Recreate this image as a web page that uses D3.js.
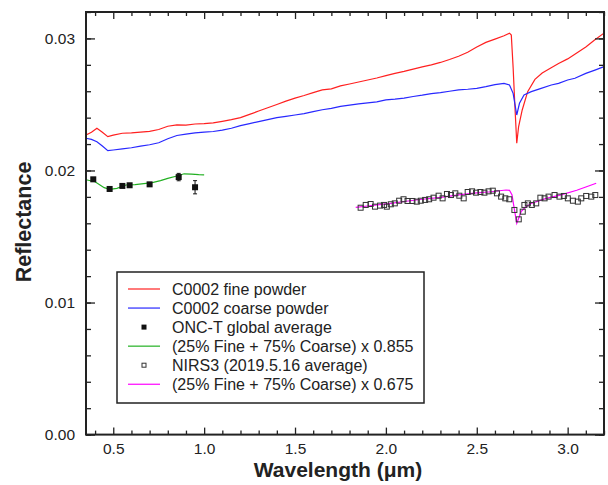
<!DOCTYPE html>
<html>
<head>
<meta charset="utf-8">
<script src="https://cdn.jsdelivr.net/npm/d3@7"></script>
<style>
  body { margin: 0; background: #fff; }
  text { font-family: "Liberation Sans", Arial, sans-serif; fill: #222; }
</style>
</head>
<body>
<script>
// C0002 fine powder
const fineWl = [0.35, 0.38, 0.41, 0.44, 0.47, 0.50, 0.55, 0.60, 0.65, 0.70, 0.75, 0.80, 0.85, 0.90, 0.95, 1.00,
  1.05, 1.10, 1.15, 1.20, 1.25, 1.30, 1.35, 1.40, 1.45, 1.50, 1.55, 1.60, 1.65, 1.70, 1.75, 1.80, 1.85, 1.90,
  1.95, 2.00, 2.05, 2.10, 2.15, 2.20, 2.25, 2.30, 2.35, 2.40, 2.45, 2.50, 2.55, 2.60, 2.65, 2.68, 2.69, 2.70,
  2.71, 2.72, 2.73, 2.75, 2.78, 2.82, 2.86, 2.90, 2.95, 3.00, 3.05, 3.10, 3.15, 3.20];
const fineR = [0.02269, 0.02290, 0.02320, 0.02290, 0.02256, 0.02268, 0.02282, 0.02285, 0.02290, 0.02296, 0.02310,
  0.02335, 0.02345, 0.02343, 0.02352, 0.02355, 0.02360, 0.02372, 0.02385, 0.02400, 0.02425, 0.02450, 0.02475,
  0.02500, 0.02525, 0.02548, 0.02568, 0.02590, 0.02610, 0.02618, 0.02640, 0.02655, 0.02670, 0.02685, 0.02700,
  0.02718, 0.02735, 0.02750, 0.02768, 0.02785, 0.02800, 0.02818, 0.02840, 0.02865, 0.02895, 0.02935, 0.02970,
  0.02995, 0.03020, 0.03040, 0.03025, 0.02780, 0.02480, 0.02206, 0.02330, 0.02458, 0.02597, 0.02690, 0.02738,
  0.02770, 0.02810, 0.02845, 0.02890, 0.02935, 0.02990, 0.03040];

// C0002 coarse powder
const coarseWl = [0.35, 0.38, 0.41, 0.44, 0.47, 0.50, 0.55, 0.60, 0.65, 0.70, 0.75, 0.80, 0.85, 0.90, 0.95, 1.00,
  1.05, 1.10, 1.15, 1.20, 1.25, 1.30, 1.35, 1.40, 1.45, 1.50, 1.55, 1.60, 1.65, 1.70, 1.75, 1.80, 1.85, 1.90,
  1.95, 2.00, 2.05, 2.10, 2.15, 2.20, 2.25, 2.30, 2.35, 2.40, 2.45, 2.50, 2.55, 2.60, 2.65, 2.68, 2.70, 2.72,
  2.735, 2.76, 2.80, 2.85, 2.91, 2.95, 3.00, 3.04, 3.10, 3.15, 3.20];
const coarseR = [0.02244, 0.02235, 0.02218, 0.02185, 0.02150, 0.02155, 0.02163, 0.02172, 0.02185, 0.02195, 0.02210,
  0.02240, 0.02265, 0.02275, 0.02285, 0.02290, 0.02295, 0.02305, 0.02320, 0.02340, 0.02355, 0.02370, 0.02385,
  0.02400, 0.02410, 0.02420, 0.02430, 0.02445, 0.02460, 0.02470, 0.02485, 0.02495, 0.02505, 0.02512, 0.02520,
  0.02535, 0.02540, 0.02548, 0.02560, 0.02570, 0.02582, 0.02590, 0.02600, 0.02610, 0.02615, 0.02622, 0.02635,
  0.02650, 0.02660, 0.02647, 0.02584, 0.02420, 0.02509, 0.02572, 0.02597, 0.02620, 0.02647, 0.02660, 0.02685,
  0.02698, 0.02735, 0.02760, 0.02786];

// ONC-T global average
const oncWl = [0.39, 0.48, 0.55, 0.59, 0.70, 0.86, 0.95];
const oncR = [0.01933, 0.01860, 0.01883, 0.01888, 0.01895, 0.01950, 0.01873];
const oncErr = [0.00008, 0.00008, 0.00008, 0.00008, 0.00008, 0.00028, 0.00050];

// (25% Fine + 75% Coarse) x 0.855
const mixOncWl = [0.35, 0.40, 0.45, 0.48, 0.52, 0.57, 0.62, 0.68, 0.72, 0.76, 0.80, 0.85, 0.89, 0.93, 0.97, 1.00];
const mixOncR = [0.01930, 0.01915, 0.01870, 0.01857, 0.01865, 0.01890, 0.01893, 0.01903, 0.01910, 0.01923, 0.01940,
  0.01958, 0.01975, 0.01973, 0.01968, 0.01966];

// NIRS3 (2019.5.16 average)
const nirsWl = [1.861, 1.889, 1.916, 1.940, 1.968, 1.990, 2.005, 2.027, 2.049, 2.073, 2.097, 2.119, 2.146, 2.170,
  2.192, 2.216, 2.238, 2.262, 2.290, 2.312, 2.336, 2.358, 2.382, 2.404, 2.428, 2.450, 2.474, 2.496, 2.520, 2.542,
  2.565, 2.588, 2.611, 2.634, 2.657, 2.679, 2.707, 2.731, 2.753, 2.762, 2.781, 2.803, 2.827, 2.850, 2.873, 2.895,
  2.928, 2.955, 2.979, 3.001, 3.029, 3.056, 3.075, 3.102, 3.130, 3.152];
const nirsR = [0.01718, 0.01739, 0.01746, 0.01726, 0.01734, 0.01739, 0.01726, 0.01744, 0.01751, 0.01771, 0.01782,
  0.01769, 0.01769, 0.01764, 0.01771, 0.01777, 0.01782, 0.01794, 0.01809, 0.01789, 0.01822, 0.01814, 0.01827,
  0.01809, 0.01789, 0.01837, 0.01842, 0.01832, 0.01837, 0.01832, 0.01842, 0.01847, 0.01827, 0.01802, 0.01789,
  0.01782, 0.01701, 0.01630, 0.01688, 0.01739, 0.01751, 0.01739, 0.01751, 0.01794, 0.01789, 0.01802, 0.01814,
  0.01802, 0.01807, 0.01789, 0.01771, 0.01764, 0.01789, 0.01807, 0.01802, 0.01814];

// (25% Fine + 75% Coarse) x 0.675
const mixNirsWl = [1.834, 1.90, 1.95, 2.027, 2.10, 2.20, 2.303, 2.40, 2.50, 2.578, 2.661, 2.68, 2.694, 2.705, 2.72,
  2.744, 2.77, 2.799, 2.882, 2.964, 3.05, 3.10, 3.157];
const mixNirsR = [0.01721, 0.01731, 0.01740, 0.01751, 0.01765, 0.01782, 0.01797, 0.01815, 0.01830, 0.01839, 0.01852,
  0.01850, 0.01815, 0.01720, 0.01600, 0.01688, 0.01725, 0.01750, 0.01789, 0.01815, 0.01850, 0.01875, 0.01903];

const xMajor = [0.5, 1.0, 1.5, 2.0, 2.5, 3.0];
const yMajor = [0.0, 0.01, 0.02, 0.03];

const legendItems = [
  { label: "C0002 fine powder", kind: "line", color: "#ff2020" },
  { label: "C0002 coarse powder", kind: "line", color: "#2828ff" },
  { label: "ONC-T global average", kind: "filled" },
  { label: "(25% Fine + 75% Coarse) x 0.855", kind: "line", color: "#22b022" },
  { label: "NIRS3 (2019.5.16 average)", kind: "open" },
  { label: "(25% Fine + 75% Coarse) x 0.675", kind: "line", color: "#ff00ff" },
];

const width = 608;
const height = 485;
const margin = { left: 86, right: 4, top: 12, bottom: 50 };

const svg = d3
  .select("body")
  .append("svg")
  .attr("width", width)
  .attr("height", height);

const x = d3.scaleLinear().domain([0.35, 3.2]).range([margin.left, width - margin.right]);
const y = d3.scaleLinear().domain([0, 0.032]).range([height - margin.bottom - 0.4, margin.top]);

const xMinor = d3.range(4, 33).map((v) => v / 10).filter((v) => v % 0.5 !== 0);
const yMinor = d3.range(0, 17).map((v) => v * 0.002);

const plot = svg.append("g");

function zip(xs, ys) {
  return xs.map((v, i) => [v, ys[i]]);
}

const line = d3
  .line()
  .x((d) => x(d[0]))
  .y((d) => y(d[1]));

function drawLine(data, color) {
  plot
    .append("path")
    .datum(data)
    .attr("fill", "none")
    .attr("stroke", color)
    .attr("stroke-width", 1.2)
    .attr("d", line);
}

drawLine(zip(fineWl, fineR), "#ff2020");
drawLine(zip(coarseWl, coarseR), "#2828ff");
drawLine(zip(mixOncWl, mixOncR), "#22b022");
drawLine(zip(mixNirsWl, mixNirsR), "#ff00ff");

// NIRS3 open squares
plot
  .selectAll(".nirs")
  .data(zip(nirsWl, nirsR))
  .enter()
  .append("rect")
  .attr("class", "nirs")
  .attr("x", (d) => x(d[0]) - 2.5)
  .attr("y", (d) => y(d[1]) - 2.5)
  .attr("width", 5)
  .attr("height", 5)
  .attr("fill", "none")
  .attr("stroke", "#333")
  .attr("stroke-width", 1);

// ONC-T error bars + squares
const onc = oncWl.map((w, i) => ({ w, r: oncR[i], e: oncErr[i] }));
const eb = plot.selectAll(".onc").data(onc).enter().append("g").attr("class", "onc");
eb.append("line")
  .attr("x1", (d) => x(d.w))
  .attr("x2", (d) => x(d.w))
  .attr("y1", (d) => y(d.r - d.e))
  .attr("y2", (d) => y(d.r + d.e))
  .attr("stroke", "#111");
eb.append("line")
  .attr("x1", (d) => x(d.w) - 2)
  .attr("x2", (d) => x(d.w) + 2)
  .attr("y1", (d) => y(d.r + d.e))
  .attr("y2", (d) => y(d.r + d.e))
  .attr("stroke", "#111");
eb.append("line")
  .attr("x1", (d) => x(d.w) - 2)
  .attr("x2", (d) => x(d.w) + 2)
  .attr("y1", (d) => y(d.r - d.e))
  .attr("y2", (d) => y(d.r - d.e))
  .attr("stroke", "#111");
eb.append("rect")
  .attr("x", (d) => x(d.w) - 3)
  .attr("y", (d) => y(d.r) - 3)
  .attr("width", 6)
  .attr("height", 6)
  .attr("fill", "#111");

// axes, ticks pointing inward on all four sides
const x0 = margin.left;
const x1 = width - margin.right;
const y0 = y(0);
const y1 = margin.top;

function styleAxis(g) {
  g.select(".domain").remove();
  g.selectAll(".tick line").attr("stroke", "#222").attr("stroke-width", 1.3);
  g.selectAll("text").attr("font-size", "15.5px").attr("fill", "#222");
}

svg.append("g").attr("transform", `translate(0,${y0})`)
  .call(d3.axisBottom(x).tickValues(xMajor).tickSize(-7).tickPadding(8).tickFormat(d3.format(".1f")))
  .call(styleAxis);
svg.append("g").attr("transform", `translate(0,${y0})`)
  .call(d3.axisBottom(x).tickValues(xMinor).tickSize(-4).tickFormat(""))
  .call(styleAxis);
svg.append("g").attr("transform", `translate(0,${y1})`)
  .call(d3.axisTop(x).tickValues(xMajor).tickSize(-7).tickFormat(""))
  .call(styleAxis);
svg.append("g").attr("transform", `translate(0,${y1})`)
  .call(d3.axisTop(x).tickValues(xMinor).tickSize(-4).tickFormat(""))
  .call(styleAxis);

svg.append("g").attr("transform", `translate(${x0},0)`)
  .call(d3.axisLeft(y).tickValues(yMajor).tickSize(-9).tickPadding(11).tickFormat(d3.format(".2f")))
  .call(styleAxis);
svg.append("g").attr("transform", `translate(${x0},0)`)
  .call(d3.axisLeft(y).tickValues(yMinor).tickSize(-5).tickFormat(""))
  .call(styleAxis);
svg.append("g").attr("transform", `translate(${x1},0)`)
  .call(d3.axisRight(y).tickValues(yMajor).tickSize(-9).tickFormat(""))
  .call(styleAxis);
svg.append("g").attr("transform", `translate(${x1},0)`)
  .call(d3.axisRight(y).tickValues(yMinor).tickSize(-5).tickFormat(""))
  .call(styleAxis);

svg.append("rect")
  .attr("x", x0)
  .attr("y", y1)
  .attr("width", x1 - x0)
  .attr("height", y0 - y1)
  .attr("fill", "none")
  .attr("stroke", "#222")
  .attr("stroke-width", 2);

// axis titles
svg.append("text")
  .attr("x", 338)
  .attr("y", 476.5)
  .attr("text-anchor", "middle")
  .attr("font-size", "21px")
  .attr("font-weight", "bold")
  .attr("fill", "#111")
  .text("Wavelength (μm)");

svg.append("text")
  .attr("transform", "translate(31,222) rotate(-90)")
  .attr("text-anchor", "middle")
  .attr("font-size", "21.5px")
  .attr("font-weight", "bold")
  .attr("fill", "#111")
  .text("Reflectance");

// legend
const lg = svg.append("g");
lg.append("rect")
  .attr("x", 117)
  .attr("y", 272)
  .attr("width", 307)
  .attr("height", 131)
  .attr("fill", "#fff")
  .attr("stroke", "#222")
  .attr("stroke-width", 1.5);

const rows = lg
  .selectAll(".row")
  .data(legendItems)
  .enter()
  .append("g")
  .attr("class", "row")
  .attr("transform", (d, i) => `translate(0,${289 + i * 19.05})`);

rows.filter((d) => d.kind === "line")
  .append("line")
  .attr("x1", 128)
  .attr("x2", 160)
  .attr("stroke", (d) => d.color)
  .attr("stroke-width", 1.2);

rows.filter((d) => d.kind === "filled")
  .append("rect")
  .attr("x", 141.5)
  .attr("y", -2.5)
  .attr("width", 5)
  .attr("height", 5)
  .attr("fill", "#111");

rows.filter((d) => d.kind === "open")
  .append("rect")
  .attr("x", 142)
  .attr("y", -2)
  .attr("width", 4)
  .attr("height", 4)
  .attr("fill", "none")
  .attr("stroke", "#333");

rows.append("text")
  .attr("x", 172)
  .attr("dy", "0.35em")
  .attr("font-size", "16px")
  .text((d) => d.label);
</script>
</body>
</html>
